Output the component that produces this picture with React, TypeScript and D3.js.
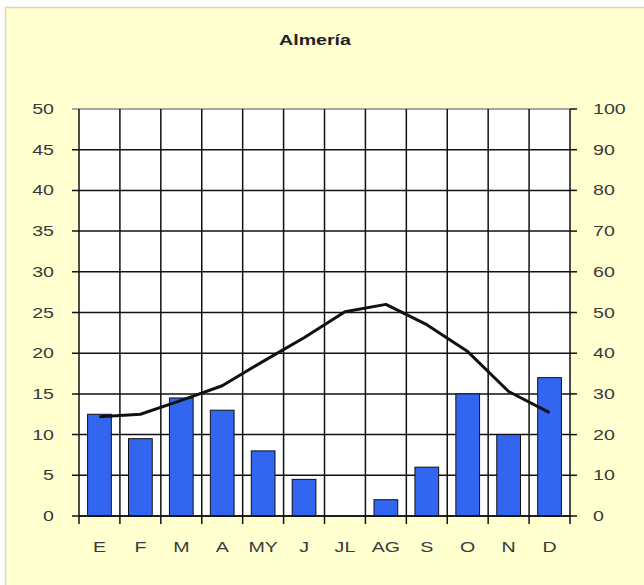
import * as d3 from "d3"

// Almería climograph: precipitation (mm, right axis) as bars, temperature (°C, left axis) as line
const months = ["E", "F", "M", "A", "MY", "J", "JL", "AG", "S", "O", "N", "D"]
const precipitation = [25, 19, 29, 26, 16, 9, 0, 4, 12, 30, 20, 34]
const temperature = [12.2, 12.5, 14.2, 16, 19, 21.9, 25.1, 26, 23.5, 20.2, 15.3, 12.7]
const tempTicks = [0, 5, 10, 15, 20, 25, 30, 35, 40, 45, 50]
const precTicks = [0, 10, 20, 30, 40, 50, 60, 70, 80, 90, 100]

const W = 644
const H = 585
const margin = { top: 109, right: 74, bottom: 69, left: 79 }
const font = "Arial, 'Liberation Sans', sans-serif"
const stretch = 1.4 // the source text is drawn wide

function Label(props: {
  x: number
  y: number
  anchor: "start" | "middle" | "end"
  children: any
  bold?: boolean
  dy?: string
}) {
  return (
    <g transform={`translate(${props.x},${props.y}) scale(${stretch},1)`}>
      <text
        textAnchor={props.anchor}
        dy={props.dy}
        fontSize={14}
        fontWeight={props.bold ? "bold" : "normal"}
        fill={props.bold ? "#222" : "#3a3a3a"}
      >
        {props.children}
      </text>
    </g>
  )
}

export default function App() {
  const x = d3
    .scaleBand()
    .domain(months)
    .range([margin.left, W - margin.right])
    .paddingInner(0.42)
    .paddingOuter(0.21)
  const band = d3.scaleBand().domain(months).range([margin.left, W - margin.right])
  const yT = d3.scaleLinear().domain([0, 50]).range([H - margin.bottom, margin.top])
  const yP = d3.scaleLinear().domain([0, 100]).range([H - margin.bottom, margin.top])

  const line = d3
    .line<number>()
    .x((_, i) => (band(months[i]) ?? 0) + band.bandwidth() / 2)
    .y((d) => yT(d))

  const x0 = margin.left
  const x1 = W - margin.right
  const y0 = H - margin.bottom
  const y1 = margin.top

  return (
    <svg width={W} height={H} style={{ position: "absolute", left: 0, top: 0 }} fontFamily={font}>
      <rect x={5.5} y={7.5} width={W} height={H} fill="#ffffd0" stroke="#d8d8c8" strokeWidth={1.5} />
      <Label x={315} y={45} anchor="middle" bold>
        Almería
      </Label>
      <rect x={x0} y={y1} width={x1 - x0} height={y0 - y1} fill="#fff" />

      {tempTicks.map((t) => (
        <g key={"t" + t}>
          <line x1={x0 - 7} x2={x1} y1={yT(t)} y2={yT(t)} stroke={t === 50 ? "#888" : "#111"} strokeWidth={1.5} />
          <Label x={54} y={yT(t)} dy="0.36em" anchor="end">
            {t}
          </Label>
        </g>
      ))}
      {precTicks.map((t) => (
        <g key={"p" + t}>
          <line x1={x1} x2={x1 + 7} y1={yP(t)} y2={yP(t)} stroke="#111" strokeWidth={1.5} />
          <Label x={593} y={yP(t)} dy="0.36em" anchor="start">
            {t}
          </Label>
        </g>
      ))}
      {months.map((m) => (
        <line
          key={"v" + m}
          x1={band(m) ?? 0}
          x2={band(m) ?? 0}
          y1={y1}
          y2={y0 + 8}
          stroke="#111"
          strokeWidth={1.5}
        />
      ))}
      <line x1={x1} x2={x1} y1={y1} y2={y0 + 8} stroke="#111" strokeWidth={1.5} />

      {months.map((m, i) => (
        <rect
          key={"b" + m}
          x={x(m)}
          y={yP(precipitation[i])}
          width={x.bandwidth()}
          height={y0 - yP(precipitation[i])}
          fill="#3366f0"
          stroke="#111"
          strokeWidth={1}
          visibility={precipitation[i] > 0 ? "visible" : "hidden"}
        />
      ))}
      <line x1={x0} x2={x1} y1={y0} y2={y0} stroke="#111" strokeWidth={1.5} />

      <path d={line(temperature) ?? ""} fill="none" stroke="#111" strokeWidth={3} strokeLinejoin="round" />

      {months.map((m) => (
        <Label key={"l" + m} x={(band(m) ?? 0) + band.bandwidth() / 2} y={552} anchor="middle">
          {m}
        </Label>
      ))}
    </svg>
  )
}
